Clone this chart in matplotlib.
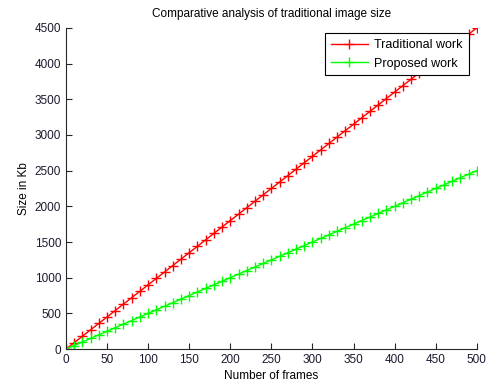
import numpy as np
import matplotlib
matplotlib.use("Agg")
import matplotlib.pyplot as plt

plt.rcParams['font.family'] = ['Liberation Sans', 'DejaVu Sans']
plt.rcParams['font.size'] = 8.5

# frames sampled every 10
frames = np.arange(0, 501, 10)
traditional = frames * 9.0   # reaches 4500 Kb at 500 frames
proposed = frames * 5.0      # reaches 2500 Kb at 500 frames

fig = plt.figure(figsize=(4.87, 3.87), dpi=100)
ax = fig.add_axes([0.1355, 0.098, 0.8435, 0.83])

ax.plot(frames, traditional, color='#ff0000', marker='+', markersize=6.5, lw=1, label='Traditional work')
ax.plot(frames, proposed, color='#00ff00', marker='+', markersize=6.5, lw=1, label='Proposed work')

ax.set_xlim(0, 500)
ax.set_ylim(0, 4500)
ax.set_xticks(np.arange(0, 501, 50))
ax.set_yticks(np.arange(0, 4501, 500))
ax.tick_params(direction='in', length=4, width=0.8, colors='#262626', labelcolor='#1a1a2e')
ax.spines['top'].set_visible(False)
ax.spines['right'].set_visible(False)
ax.spines['left'].set_color('#262626')
ax.spines['bottom'].set_color('#262626')

ax.set_title('Comparative analysis of traditional image size', fontsize=8.5, pad=8)
ax.set_xlabel('Number of frames', labelpad=3)
ax.set_ylabel('Size in Kb', labelpad=3)

leg = ax.legend(loc='upper right', bbox_to_anchor=(0.98, 0.983), borderaxespad=0,
                fancybox=False, framealpha=1, edgecolor='black', fontsize=9,
                handlelength=3.0, handletextpad=0.5, borderpad=0.45, labelspacing=0.55)
leg.get_frame().set_linewidth(0.8)

fig.savefig('out.png', dpi=100)
